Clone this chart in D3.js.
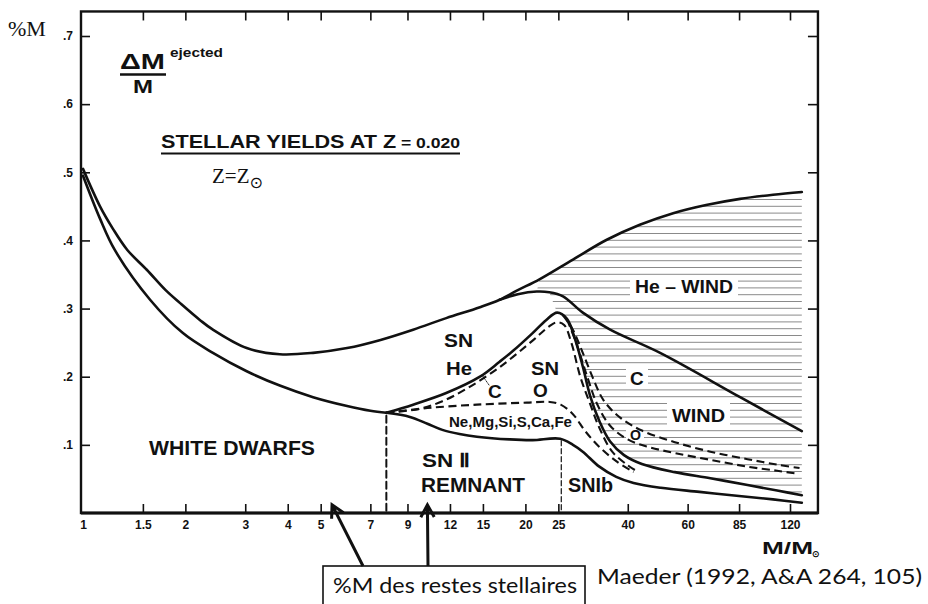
<!DOCTYPE html>
<html><head><meta charset="utf-8">
<script src="https://cdn.jsdelivr.net/npm/d3@7"></script>
<style>
html,body{margin:0;padding:0;background:#fff;}
svg{display:block;}
.sans{font-family:"Liberation Sans",Arial,Helvetica,sans-serif;font-weight:bold;fill:#111;}
.serif{font-family:"Liberation Serif","Times New Roman",serif;fill:#111;}
.soft{font-family:Lato,"Open Sans",sans-serif;fill:#111;}
</style></head><body>
<svg id="chart" width="928" height="604"></svg>
<script>
// ---- data: fraction of initial mass vs initial mass (M/Msun) ----
// upper envelope (total ejected mass, then top of He wind)
const envMass = [1, 1.122, 1.225, 1.35, 1.54, 1.75, 1.93, 2.21, 2.41, 3.03, 3.79, 4.75, 5.98, 7.5, 9.35, 11.7, 14.7, 16.8, 19, 22, 27.6, 34.7, 43.4, 54.4, 68, 85.6, 107, 130];
const envFrac = [0.505, 0.45, 0.417, 0.386, 0.357, 0.327, 0.308, 0.283, 0.269, 0.242, 0.233, 0.235, 0.242, 0.254, 0.269, 0.286, 0.302, 0.313, 0.327, 0.343, 0.372, 0.401, 0.423, 0.44, 0.452, 0.461, 0.467, 0.471];
// white dwarf boundary
const wdMass = [1, 1.122, 1.24, 1.575, 1.967, 2.41, 3.03, 3.79, 4.75, 5.98, 7.0, 7.8];
const wdFrac = [0.495, 0.432, 0.386, 0.313, 0.264, 0.235, 0.208, 0.187, 0.17, 0.157, 0.15, 0.147];
// He / C boundary (SN He above, then wind region)
const coMass = [7.8, 9.35, 11.7, 14.7, 16.8, 18.4, 21, 23, 24.8, 26.5, 28, 29.5, 31, 33, 35.5, 39, 44, 55, 70, 90, 110, 130];
const coFrac = [0.147, 0.159, 0.176, 0.2, 0.222, 0.238, 0.264, 0.283, 0.294, 0.285, 0.255, 0.215, 0.172, 0.135, 0.105, 0.085, 0.072, 0.06, 0.051, 0.041, 0.033, 0.026];
// remnant mass
const remMass = [7.8, 9.15, 10.3, 11.4, 12.8, 14.4, 18, 21, 25.3, 27.6, 29.5, 33, 37, 41.6, 50, 65, 85, 107, 130];
const remFrac = [0.147, 0.141, 0.131, 0.122, 0.116, 0.112, 0.108, 0.107, 0.109, 0.1, 0.09, 0.068, 0.053, 0.044, 0.037, 0.031, 0.025, 0.02, 0.015];
// He wind / C wind boundary
const heWindMass = [16.8, 19, 21.6, 23.5, 25.8, 29.5, 35.5, 49.8, 85.6, 130];
const heWindFrac = [0.313, 0.321, 0.325, 0.324, 0.318, 0.294, 0.269, 0.235, 0.17, 0.12];
// C / O boundary in supernova ejecta (dashed)
const snCMass = [7.8, 9.8, 11.4, 13.5, 16.8, 21, 23.5, 24.8, 26, 27.3, 29, 31, 33, 36, 40, 42];
const snCFrac = [0.147, 0.153, 0.164, 0.183, 0.214, 0.253, 0.274, 0.28, 0.276, 0.25, 0.2, 0.16, 0.125, 0.09, 0.07, 0.063];
// O / Ne,Mg,Si,S,Ca,Fe boundary (dashed)
const snOMass = [7.8, 10.3, 14.4, 20.2, 23.6, 25.4, 27.6, 30, 33, 37, 41.6];
const snOFrac = [0.147, 0.154, 0.159, 0.162, 0.163, 0.159, 0.145, 0.12, 0.097, 0.076, 0.06];
// C wind / O wind boundary (dashed)
const windCMass = [25.8, 27.5, 29.5, 31.6, 34, 38, 44, 55, 70, 90, 110, 128];
const windCFrac = [0.29, 0.27, 0.235, 0.198, 0.165, 0.14, 0.121, 0.104, 0.09, 0.079, 0.071, 0.066];
// lower edge of O wind (dashed)
const windOMass = [26.5, 28.2, 30.4, 32.5, 35.5, 40, 46, 55, 70, 90, 110, 125];
const windOFrac = [0.284, 0.25, 0.2, 0.16, 0.128, 0.108, 0.097, 0.088, 0.078, 0.068, 0.062, 0.058];
// boundaries of the remnant types
const snIIMinMass = 7.8;
const snIbMinMass = 25.5;
// axis ticks
const xTicks = [1, 1.5, 2, 3, 4, 5, 7, 9, 12, 15, 20, 25, 40, 60, 85, 120];
const xTickLabels = ["1", "1.5", "2", "3", "4", "5", "7", "9", "12", "15", "20", "25", "40", "60", "85", "120"];
const yTicks = [0.1, 0.2, 0.3, 0.4, 0.5, 0.6, 0.7];
const yTickLabels = [".1", ".2", ".3", ".4", ".5", ".6", ".7"];
// masses the remnant arrows point at
const arrowMass = [5.4, 10.3];

// ---- scales ----
const svg = d3.select("#chart");
const x = d3.scaleLog().domain([1, 120]).range([83, 790]);
const y = d3.scaleLinear().domain([0, 0.7]).range([513, 36]);
const fL = 81, fR = x(145), fT = y(0.736), fB = y(0);

const pts = (ms, vs) => ms.map((m, i) => [m, vs[i]]);
const line = d3.line().x(d => x(d[0])).y(d => y(d[1])).curve(d3.curveCatmullRom.alpha(0.5));

const env = pts(envMass, envFrac), wd = pts(wdMass, wdFrac), co = pts(coMass, coFrac),
      rem = pts(remMass, remFrac), heW = pts(heWindMass, heWindFrac),
      snC = pts(snCMass, snCFrac), snO = pts(snOMass, snOFrac),
      wC = pts(windCMass, windCFrac), wO = pts(windOMass, windOFrac);

// ---- hatched wind region ----
const join = (a, b) => line(a) + line(b.slice().reverse()).replace(/^M/, "L") + "Z";
const clip = svg.append("defs").append("clipPath").attr("id", "windClip");
clip.append("path").attr("d", join(env.filter(d => d[0] >= 22), heW.filter(d => d[0] >= 21.6)));
clip.append("path").attr("d", join(heW.filter(d => d[0] >= 23.5), co.filter(d => d[0] >= 24.8)));
const hatch = svg.append("g").attr("clip-path", "url(#windClip)");
for (let yy = y(0.49); yy < fB; yy += 6.8) {
  hatch.append("line").attr("x1", x(15)).attr("x2", x(135)).attr("y1", yy).attr("y2", yy)
    .attr("stroke", "#8a8a8a").attr("stroke-width", 1);
}

// white knock-outs behind wind labels
[[630, 277, 108, 20], [626, 368, 22, 20], [667, 403, 63, 22], [626, 425, 18, 18]].forEach(r => {
  svg.append("rect").attr("x", r[0]).attr("y", r[1]).attr("width", r[2]).attr("height", r[3]).attr("fill", "#fff");
});

// ---- curves ----
const g = svg.append("g").attr("fill", "none").attr("stroke", "#111").attr("stroke-linecap", "round");
[env, wd, co, rem, heW].forEach(c => g.append("path").attr("d", line(c)).attr("stroke-width", 2.6));
[snC, snO, wC, wO].forEach(c => g.append("path").attr("d", line(c)).attr("stroke-width", 2.1)
  .attr("stroke-dasharray", "8,4.5").attr("stroke-linecap", "butt"));

// remnant-type separators
g.append("line").attr("x1", x(snIIMinMass)).attr("x2", x(snIIMinMass))
  .attr("y1", y(remFrac[0]) + 3).attr("y2", fB).attr("stroke-width", 2).attr("stroke-dasharray", "7,4");
g.append("line").attr("x1", x(snIbMinMass)).attr("x2", x(snIbMinMass))
  .attr("y1", y(0.109) + 2).attr("y2", fB).attr("stroke-width", 1.2).attr("stroke-dasharray", "5,3");
// leader from the C label to its boundary
g.append("line").attr("x1", 482).attr("y1", 375).attr("x2", 489).attr("y2", 385).attr("stroke-width", 0.9).attr("stroke-dasharray", "2,1.5");

// ---- axes ----
const axStyle = sel => {
  sel.select(".domain").remove();
  sel.selectAll(".tick line").attr("stroke", "#111").attr("stroke-width", 1.6);
  sel.selectAll("text").attr("class", "sans").style("font-size", "12px").attr("fill", "#111");
};
svg.append("g").attr("transform", `translate(0,${fB})`)
  .call(d3.axisBottom(x).tickValues(xTicks).tickSizeInner(-9).tickSizeOuter(0).tickPadding(7)
    .tickFormat((d, i) => xTickLabels[i])).call(axStyle)
  .selectAll(".tick").filter(d => d === 1).select("line").remove();
svg.append("g").attr("transform", `translate(0,${fT})`)
  .call(d3.axisTop(x).tickValues(xTicks.slice(1)).tickSizeInner(-9).tickSizeOuter(0).tickFormat(""))
  .call(axStyle);
svg.append("g").attr("transform", `translate(${fL},0)`)
  .call(d3.axisLeft(y).tickValues(yTicks).tickSizeInner(-9).tickSizeOuter(0).tickPadding(8)
    .tickFormat((d, i) => yTickLabels[i])).call(axStyle);
svg.append("g").attr("transform", `translate(${fR},0)`)
  .call(d3.axisRight(y).tickValues(yTicks).tickSizeInner(-10).tickSizeOuter(0).tickFormat(""))
  .call(axStyle);

// frame
svg.append("rect").attr("x", fL).attr("y", fT).attr("width", fR - fL).attr("height", fB - fT)
  .attr("fill", "none").attr("stroke", "#111").attr("stroke-width", 2.4);
svg.append("line").attr("x1", fL).attr("x2", fR).attr("y1", fB).attr("y2", fB)
  .attr("stroke", "#111").attr("stroke-width", 3);

// ---- text ----
const txt = (s, xx, yy, size, cls, len, anchor) => {
  const t = svg.append("text").attr("x", xx).attr("y", yy).attr("class", cls)
    .style("font-size", size + "px").text(s);
  if (len) t.attr("textLength", len).attr("lengthAdjust", "spacingAndGlyphs");
  if (anchor) t.attr("text-anchor", anchor);
  return t;
};

txt("%M", 8, 36, 22, "serif");
txt("ΔM", 120, 69, 22, "sans", 45);
txt("ejected", 170, 57, 13.5, "sans", 53);
svg.append("line").attr("x1", 120).attr("x2", 166).attr("y1", 74.5).attr("y2", 74.5).attr("stroke", "#111").attr("stroke-width", 2.4);
txt("M", 133, 93, 18, "sans", 20);

const title = txt("STELLAR YIELDS AT Z", 161, 148, 18.5, "sans");
title.append("tspan").text(" = 0.020").style("font-size", "15px");
title.attr("textLength", 299).attr("lengthAdjust", "spacingAndGlyphs");
svg.append("line").attr("x1", 161).attr("x2", 460).attr("y1", 153.5).attr("y2", 153.5).attr("stroke", "#111").attr("stroke-width", 2);
const zz = txt("Z=Z", 212, 183, 21, "serif");
zz.append("tspan").text("⊙").attr("dy", 5).style("font-size", "16px").style("font-family", "DejaVu Sans");

txt("WHITE DWARFS", 149, 455, 20, "sans", 166);
txt("SN Ⅱ", 422, 467, 19, "sans", 48);
txt("REMNANT", 421, 492, 20, "sans", 104);
txt("SNIb", 568, 492, 20, "sans", 45);
txt("Ne,Mg,Si,S,Ca,Fe", 449, 427, 14, "sans", 123);
txt("SN", 444, 347, 19, "sans", 29);
txt("He", 446, 375, 19, "sans", 26);
txt("C", 488, 398, 19, "sans");
txt("SN", 531, 375, 19, "sans", 28);
txt("O", 533, 397, 19, "sans");
txt("He – WIND", 635, 293, 19, "sans", 98);
txt("C", 630, 385, 19, "sans");
txt("WIND", 672, 422, 19, "sans", 53);
txt("O", 630, 440, 15, "sans", 11);

txt("M/M", 762, 554, 17, "sans", 51);
txt("⊙", 812, 557, 9, "sans");

// remnant annotation box and arrows
svg.append("rect").attr("x", 323).attr("y", 566).attr("width", 262).attr("height", 50)
  .attr("fill", "#fff").attr("stroke", "#111").attr("stroke-width", 1.6);
txt("%M des restes stellaires", 333, 593, 22, "soft", 244);
txt("Maeder (1992, A&A 264, 105)", 597, 584, 22, "soft", 325);

const arrowTail = [[363, 566], [428, 566]];
arrowMass.forEach((m, i) => {
  const tx = x(m), ty = y(0.012);
  const [sx, sy] = arrowTail[i];
  const ang = Math.atan2(ty - sy, tx - sx);
  const L = 14, sp = 0.5;
  const b1 = [tx - L * Math.cos(ang - sp), ty - L * Math.sin(ang - sp)];
  const b2 = [tx - L * Math.cos(ang + sp), ty - L * Math.sin(ang + sp)];
  svg.append("path").attr("d", `M${sx},${sy}L${tx},${ty}M${b1}L${tx},${ty}L${b2}`)
    .attr("fill", "none").attr("stroke", "#111").attr("stroke-width", 3).attr("stroke-linejoin", "miter");
});
</script></body></html>
